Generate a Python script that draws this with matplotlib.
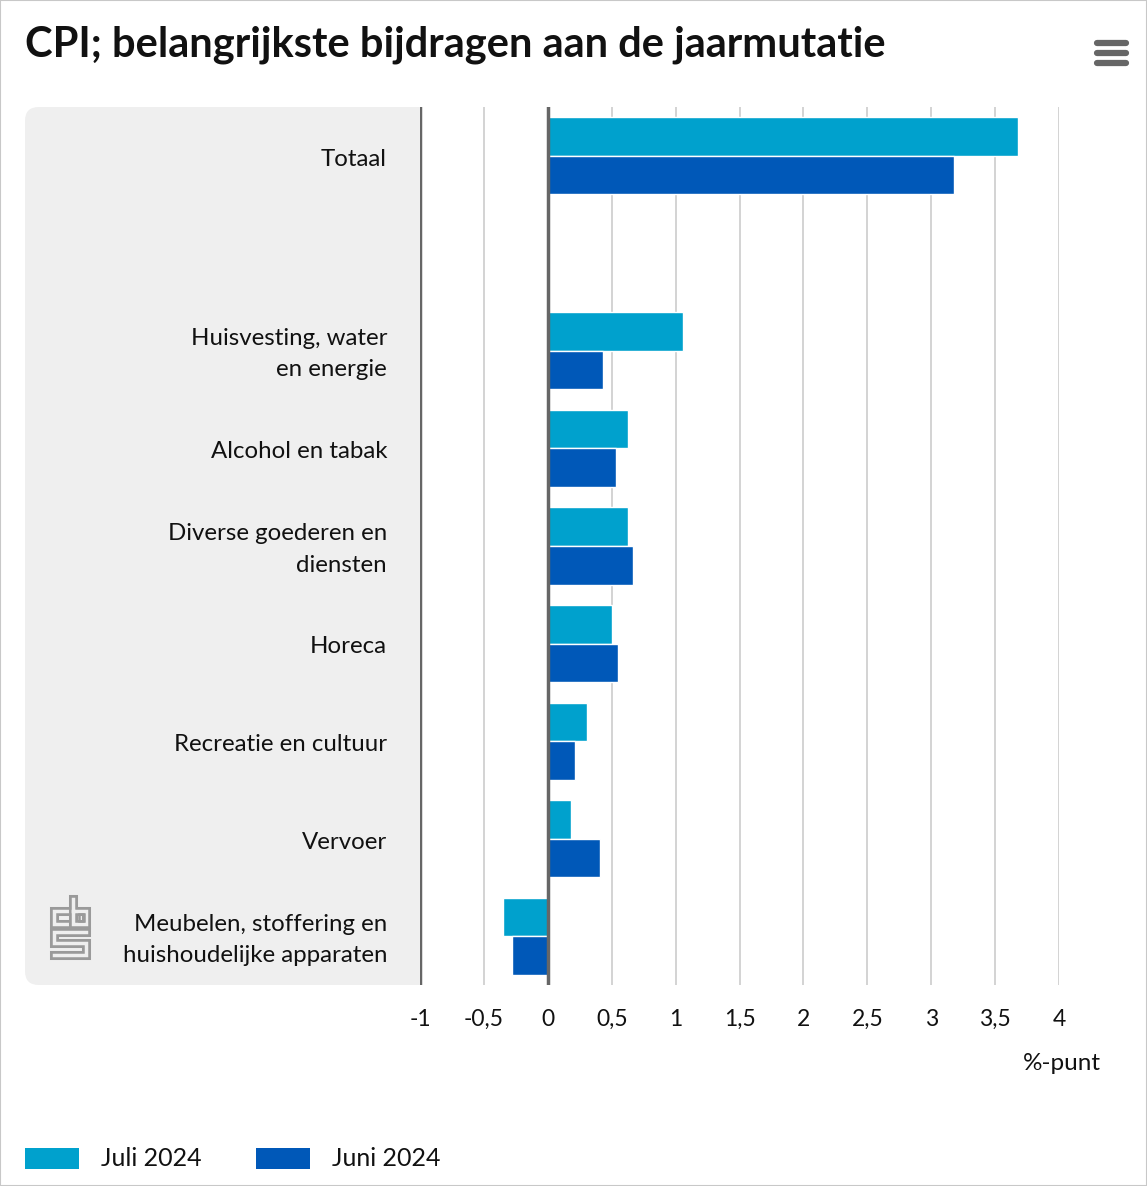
import matplotlib
matplotlib.use("Agg")
import matplotlib.pyplot as plt
import matplotlib.transforms as mtransforms
from matplotlib.patches import FancyBboxPatch, Rectangle
from matplotlib.lines import Line2D
import numpy as np

# data
categories = ["Totaal", "", "Huisvesting, water\nen energie", "Alcohol en tabak",
              "Diverse goederen en\ndiensten", "Horeca", "Recreatie en cultuur",
              "Vervoer", "Meubelen, stoffering en\nhuishoudelijke apparaten"]
juli_2024 = [3.68, None, 1.06, 0.63, 0.63, 0.50, 0.31, 0.18, -0.35]
juni_2024 = [3.18, None, 0.43, 0.53, 0.67, 0.55, 0.21, 0.41, -0.28]
series_names = ["Juli 2024", "Juni 2024"]
colors = ["#00a1cd", "#0058b8"]
xticks = [-1, -0.5, 0, 0.5, 1, 1.5, 2, 2.5, 3, 3.5, 4]
xticklabels = ["-1", "-0,5", "0", "0,5", "1", "1,5", "2", "2,5", "3", "3,5", "4"]

W, H = 1147, 1186
fig = plt.figure(figsize=(W / 100, H / 100), dpi=100)
fig.patch.set_facecolor("white")

def fx(x):
    return x / W

def fy(y):
    return 1 - y / H

label_font = ["Lato", "DejaVu Sans"]
panel_col = "#efefef"

# outer border
fig.add_artist(Rectangle((0, 0), 1, 1, transform=fig.transFigure, fill=False,
                         edgecolor="#c8c8c8", lw=1.5))

# grey panel behind the category labels (rounded left corners only)
fig.add_artist(FancyBboxPatch((fx(25), fy(985)), fx(420 - 25), fy(107) - fy(985),
                              boxstyle="round,pad=0,rounding_size=0.012",
                              transform=fig.transFigure, facecolor=panel_col,
                              edgecolor="none", mutation_aspect=W / H, zorder=0))
fig.add_artist(Rectangle((fx(200), fy(985)), fx(220), fy(107) - fy(985),
                         transform=fig.transFigure, facecolor=panel_col,
                         edgecolor="none", zorder=0))

ax = fig.add_axes([fx(420), fy(985), fx(1059 - 420), fy(107) - fy(985)])
ax.set_facecolor("none")
ax.set_zorder(2)

n = len(categories)
y = np.arange(n)
h = 0.395
for vals, off, c, name in [(juli_2024, -h / 2, colors[0], series_names[0]),
                           (juni_2024, h / 2, colors[1], series_names[1])]:
    ys = [yy + off for yy, v in zip(y, vals) if v is not None]
    vs = [v for v in vals if v is not None]
    ax.barh(ys, vs, height=h, color=c, edgecolor="white", linewidth=1, zorder=3,
            clip_on=False, label=name)

ax.set_xlim(-1, 4)
ax.set_ylim(n - 0.5, -0.5)
ax.set_xticks(xticks)
ax.set_xticklabels(xticklabels, fontsize=16.5, family=label_font, color="#111111")
ax.tick_params(axis="x", length=0, pad=17)
ax.set_yticks([])
for s in ax.spines.values():
    s.set_visible(False)
for t in xticks:
    if t in (-1, 0):
        ax.axvline(t, color="#666666", lw=2.5, zorder=4 if t == 0 else 2)
    else:
        ax.axvline(t, color="#cccccc", lw=1.2, zorder=1)

# category labels, right aligned in the grey panel
lab_tr = mtransforms.blended_transform_factory(fig.transFigure, ax.transData)
for yy, lab in zip(y, categories):
    if lab:
        ax.text(fx(387), yy + 0.035, lab, transform=lab_tr, ha="right", va="center",
                fontsize=17.3, family=label_font, color="#111111",
                linespacing=1.6, clip_on=False)

ax.text(fx(1101), fy(1063), "%-punt", transform=fig.transFigure, ha="right",
        va="center", fontsize=17.5, family=label_font, color="#111111")

# title
fig.text(fx(25), fy(45), "CPI; belangrijkste bijdragen aan de jaarmutatie",
         ha="left", va="center", fontsize=30, fontweight="bold",
         family=["Lato", "DejaVu Sans"], color="#111111")

# menu icon
for yy in (43, 53, 63):
    fig.add_artist(Line2D([fx(1097), fx(1126)], [fy(yy), fy(yy)], lw=4.5,
                          color="#666666", solid_capstyle="round",
                          transform=fig.transFigure))

# cbs logo (outlined strokes)
logo_paths = [
    [(68, 911), (54, 911), (54, 924), (68, 924)],
    [(73, 899), (73, 924), (86, 924), (86, 911), (73, 911)],
    [(86, 932), (54, 932), (54, 943), (86, 943), (86, 955), (54, 955)],
]
for path in logo_paths:
    px, py = zip(*path)
    for lw, col in ((6.5, "#9a9a9a"), (2.5, panel_col)):
        fig.add_artist(Line2D([fx(p) for p in px], [fy(p) for p in py], lw=lw,
                              color=col, solid_joinstyle="miter",
                              solid_capstyle="projecting",
                              transform=fig.transFigure, zorder=1))
fig.add_artist(Rectangle((fx(78.5), fy(920.5)), fx(5), fy(914) - fy(920.5),
                         fill=False, edgecolor="#9a9a9a", lw=1.8,
                         transform=fig.transFigure, zorder=1))

# legend
for i, (name, c) in enumerate(zip(series_names, colors)):
    x0 = [25, 256][i]
    fig.add_artist(Rectangle((fx(x0), fy(1169)), fx(54), fy(1148) - fy(1169),
                             facecolor=c, edgecolor="none",
                             transform=fig.transFigure))
    fig.text(fx(x0 + 76), fy(1159), name, ha="left", va="center", fontsize=18,
             family=label_font, color="#111111")

fig.savefig("out.png", dpi=100)
